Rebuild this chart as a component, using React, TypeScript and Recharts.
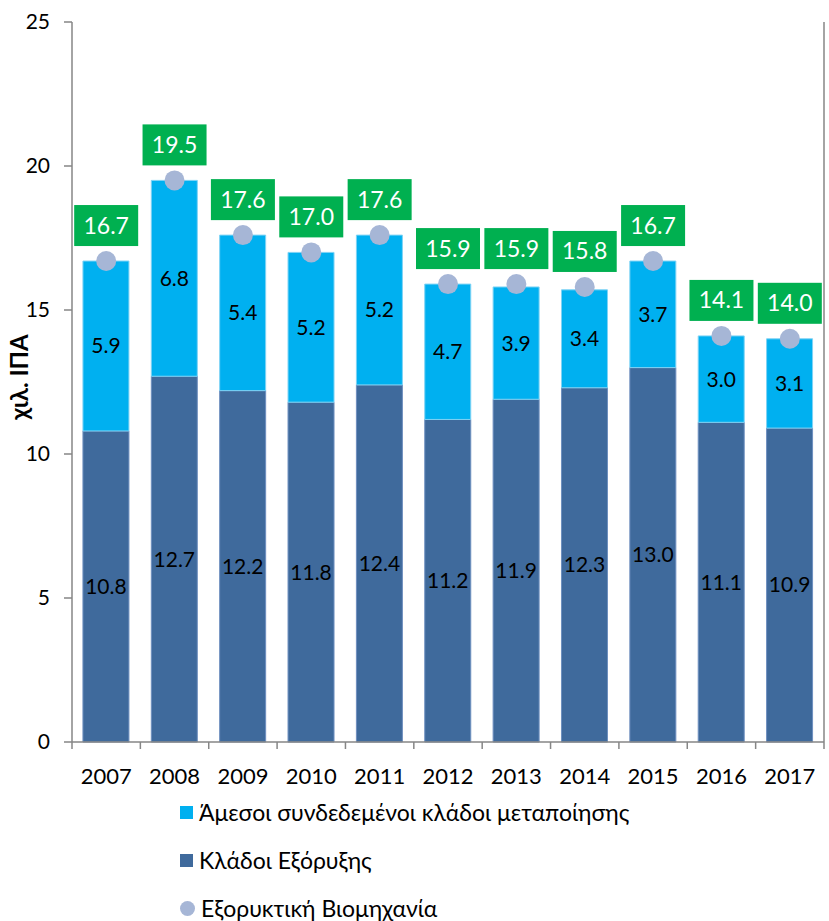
import * as React from "react";
import {
  Bar,
  ComposedChart,
  LabelList,
  Legend,
  Line,
  XAxis,
  YAxis,
} from "recharts";

// values (χιλ. ΙΠΑ)
const years = ["2007", "2008", "2009", "2010", "2011", "2012", "2013", "2014", "2015", "2016", "2017"];
const mining = [10.8, 12.7, 12.2, 11.8, 12.4, 11.2, 11.9, 12.3, 13.0, 11.1, 10.9];
const linked = [5.9, 6.8, 5.4, 5.2, 5.2, 4.7, 3.9, 3.4, 3.7, 3.0, 3.1];
const totals = [16.7, 19.5, 17.6, 17.0, 17.6, 15.9, 15.9, 15.8, 16.7, 14.1, 14.0];
const yTicks = [0, 5, 10, 15, 20, 25];

const LINKED_NAME = "Άμεσοι συνδεδεμένοι κλάδοι μεταποίησης";
const MINING_NAME = "Κλάδοι Εξόρυξης";
const TOTAL_NAME = "Εξορυκτική Βιομηχανία";

const FONT = "Lato, 'Noto Sans', sans-serif";
const AXIS = "#868686";
const LIGHT = "#00B0F0";
const DARK = "#3F6A9C";
const DOT = "#A6B6D6";
const GREEN = "#00B050";

const chartData = years.map((year, i) => ({
  year,
  mining: mining[i],
  linked: linked[i],
  total: totals[i],
}));

const fmt = (v: number) => v.toFixed(1);

// year label plus tick marks on the category boundaries
function YearTick(props: any) {
  const { x, y, payload, index, width, visibleTicksCount } = props;
  const step = width / visibleTicksCount;
  const last = index === visibleTicksCount - 1;
  return (
    <g>
      <line x1={x - step / 2} x2={x - step / 2} y1={y} y2={y + 7} stroke={AXIS} strokeWidth={1.5} />
      {last && (
        <line x1={x + step / 2} x2={x + step / 2} y1={y} y2={y + 7} stroke={AXIS} strokeWidth={1.5} />
      )}
      <text x={x} y={y + 42} textAnchor="middle" fontSize={22} fill="#000" fontFamily={FONT}>
        {payload.value}
      </text>
    </g>
  );
}

function TotalBox(props: any) {
  const { x, y, value } = props;
  const w = 64;
  const h = 41;
  return (
    <g>
      <rect x={x - w / 2} y={y - 15 - h} width={w} height={h} fill={GREEN} />
      <text
        x={x}
        y={y - 15 - h / 2 + 8}
        textAnchor="middle"
        fontSize={23}
        fill="#fff"
        fontFamily={FONT}
      >
        {fmt(value)}
      </text>
    </g>
  );
}

function LegendBox() {
  const items = [
    { name: LINKED_NAME, color: LIGHT, shape: "square" },
    { name: MINING_NAME, color: DARK, shape: "square" },
    { name: TOTAL_NAME, color: DOT, shape: "circle" },
  ];
  return (
    <div style={{ fontFamily: FONT, fontSize: 23, color: "#000", height: 139, paddingTop: 6, boxSizing: "border-box", overflow: "visible" }}>
      {items.map((it) => (
        <div key={it.name} style={{ display: "flex", alignItems: "center", height: 48 }}>
          <span
            style={{
              display: "inline-block",
              width: it.shape === "circle" ? 15 : 13,
              height: it.shape === "circle" ? 15 : 13,
              borderRadius: it.shape === "circle" ? "50%" : 0,
              background: it.color,
              marginRight: 6,
            }}
          />
          <span>{it.name}</span>
        </div>
      ))}
    </div>
  );
}

export default function App() {
  return (
    <div style={{ position: "absolute", left: 0, top: 0, width: 829, height: 921, background: "#fff" }}>
      <ComposedChart
        width={829}
        height={921}
        data={chartData}
        margin={{ top: 22, right: 0, left: 0, bottom: 0 }}
        barCategoryGap="16%"
      >
        <XAxis
          dataKey="year"
          tickLine={false}
          tickSize={0}
          tickMargin={0}
          height={40}
          stroke={AXIS}
          strokeWidth={1.5}
          tick={<YearTick />}
          interval={0}
        />
        <YAxis
          yAxisId="left"
          domain={[0, 25]}
          ticks={yTicks}
          width={72}
          stroke={AXIS}
          strokeWidth={1.5}
          tickSize={8}
          tickMargin={14}
          tick={{ fill: "#000", fontSize: 21, fontFamily: FONT }}
          label={{
            value: "χιλ. ΙΠΑ",
            angle: -90,
            position: "insideLeft",
            offset: 19,
            dy: -5,
            style: { fontFamily: FONT, fontSize: 24, fontWeight: 700, fill: "#000", textAnchor: "middle" },
          }}
        />
        <YAxis
          yAxisId="right"
          orientation="right"
          domain={[0, 25]}
          ticks={yTicks}
          width={5}
          stroke={AXIS}
          strokeWidth={1.5}
          tickSize={5}
          tickFormatter={() => ""}
        />
        <Legend
          verticalAlign="bottom"
          align="left"
          content={<LegendBox />}
          wrapperStyle={{ left: 180, width: 640, bottom: 0 }}
        />
        <Bar
          yAxisId="left"
          dataKey="mining"
          name={MINING_NAME}
          stackId="a"
          fill={DARK}
          stroke="#6E8FBF"
          strokeWidth={1}
          isAnimationActive={false}
        >
          <LabelList dataKey="mining" position="center" formatter={(v: any) => fmt(v)} fill="#000" fontSize={21} fontFamily={FONT} />
        </Bar>
        <Bar
          yAxisId="left"
          dataKey="linked"
          name={LINKED_NAME}
          stackId="a"
          fill={LIGHT}
          stroke="#7FD3F5"
          strokeWidth={1}
          isAnimationActive={false}
        >
          <LabelList dataKey="linked" position="center" formatter={(v: any) => fmt(v)} fill="#000" fontSize={21} fontFamily={FONT} />
        </Bar>
        <Line
          yAxisId="left"
          dataKey="total"
          name={TOTAL_NAME}
          stroke="none"
          dot={{ r: 10, fill: DOT, stroke: "none" }}
          activeDot={false}
          isAnimationActive={false}
        >
          <LabelList dataKey="total" content={<TotalBox />} />
        </Line>
      </ComposedChart>
    </div>
  );
}
